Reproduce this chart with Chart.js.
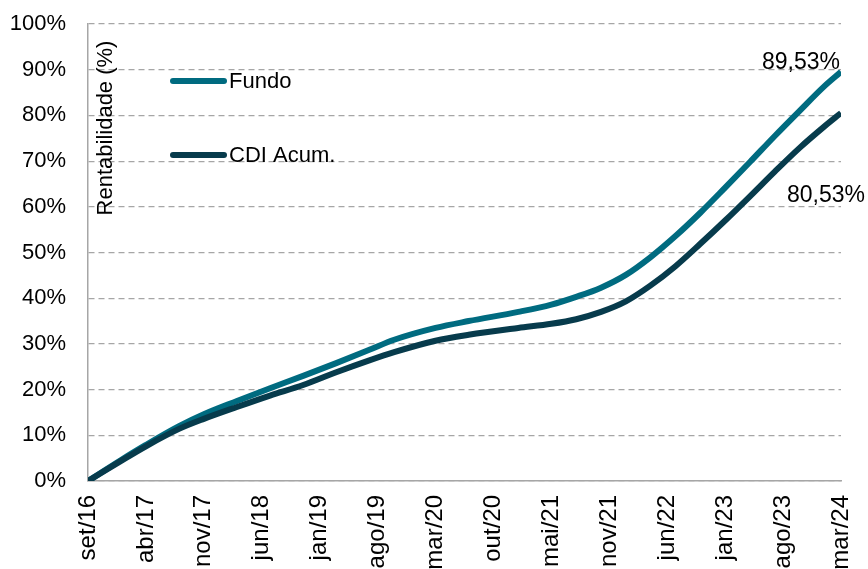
<!DOCTYPE html>
<html>
<head>
<meta charset="utf-8">
<script src="https://cdn.jsdelivr.net/npm/chart.js@4/dist/chart.umd.min.js"></script>
<style>
    body { margin: 0; background: #fff; }
    #grafica-rentabilidade { display: block; }
</style>
</head>
<body>
<canvas id="grafica-rentabilidade" width="868" height="569"></canvas>
<script>
// rotulos do eixo x (um a cada 7 meses)
const rotulosMeses = ["set/16", "abr/17", "nov/17", "jun/18", "jan/19", "ago/19", "mar/20",
    "out/20", "mai/21", "nov/21", "jun/22", "jan/23", "ago/23", "mar/24"];

// indice do mes (0 = set/16) dos pontos
const indiceMes = [0, 4, 7, 11, 14, 18, 22, 26, 30, 34, 37, 42, 46, 52, 56, 59, 62, 65, 68, 71, 74, 77, 80, 83, 86, 89, 91];

const fundo = [0, 4.6, 7.9, 12.0, 14.6, 17.5, 20.3, 23.0, 25.8, 28.7, 30.9, 33.5, 35.0, 37.0, 38.6, 40.3,
    42.3, 45.1, 49.0, 53.6, 58.7, 64.2, 69.8, 75.5, 81.0, 86.4, 89.53];

const cdiAcum = [0, 4.4, 7.6, 11.4, 13.6, 16.2, 18.7, 21.0, 23.8, 26.4, 28.2, 30.7, 32.0, 33.5, 34.4, 35.4,
    37.0, 39.3, 42.8, 47.0, 51.9, 57.0, 62.3, 67.7, 72.9, 77.6, 80.53];

const corFundo = "#006b80";
const corCdi = "#073b4c";
const fonte = "'Liberation Sans', Arial, sans-serif";

const aPontos = (valores) => valores.map((v, i) => ({ x: indiceMes[i], y: v }));

const formatar = (v) => v.toFixed(2).replace(".", ",") + "%";

// legenda, titulo do eixo e rotulos finais desenhados dentro da area
const extras = {
    id: "extras",
    afterDraw: (chart) => {
        const ctx = chart.ctx;
        const area = chart.chartArea;
        const sx = chart.scales.x;
        const sy = chart.scales.y;
        ctx.save();

        // titulo do eixo y
        ctx.save();
        ctx.translate(area.left + 18, 128);
        ctx.rotate(-Math.PI / 2);
        ctx.font = "22px " + fonte;
        ctx.fillStyle = "#000";
        ctx.textAlign = "center";
        ctx.textBaseline = "middle";
        ctx.fillText("Rentabilidade (%)", 0, 0);
        ctx.restore();

        // legenda
        const itens = [
            { texto: "Fundo", cor: corFundo, y: 81 },
            { texto: "CDI Acum.", cor: corCdi, y: 155 },
        ];
        itens.forEach((item) => {
            ctx.beginPath();
            ctx.lineWidth = 6;
            ctx.lineCap = "round";
            ctx.strokeStyle = item.cor;
            ctx.moveTo(173, item.y);
            ctx.lineTo(224, item.y);
            ctx.stroke();
            ctx.font = "22px " + fonte;
            ctx.fillStyle = "#000";
            ctx.textAlign = "left";
            ctx.textBaseline = "middle";
            ctx.fillText(item.texto, 229, item.y + 1);
        });

        // valores finais
        const ultimo = indiceMes.length - 1;
        const xFim = sx.getPixelForValue(indiceMes[ultimo]);
        ctx.font = "23px " + fonte;
        ctx.fillStyle = "#000";
        ctx.textAlign = "right";
        ctx.textBaseline = "middle";
        ctx.fillText(formatar(fundo[ultimo]), xFim - 1, sy.getPixelForValue(fundo[ultimo]) - 9);
        ctx.textAlign = "left";
        ctx.fillText(formatar(cdiAcum[ultimo]), xFim - 54, sy.getPixelForValue(cdiAcum[ultimo]) + 83);

        ctx.restore();
    },
};

const crearGrafico = () => {
    const contexto = document.getElementById("grafica-rentabilidade").getContext("2d");
    return new Chart(contexto, {
        type: "line",
        data: {
            datasets: [
                {
                    label: "CDI Acum.",
                    data: aPontos(cdiAcum),
                    borderColor: corCdi,
                    borderWidth: 6,
                    pointRadius: 0,
                    cubicInterpolationMode: "monotone",
                    fill: false,
                },
                {
                    label: "Fundo",
                    data: aPontos(fundo),
                    borderColor: corFundo,
                    borderWidth: 6,
                    pointRadius: 0,
                    cubicInterpolationMode: "monotone",
                    fill: false,
                },
            ],
        },
        options: {
            responsive: false,
            animation: false,
            layout: { padding: { top: 24, right: 27, left: 0, bottom: 0 } },
            plugins: {
                legend: { display: false },
                tooltip: { enabled: false },
            },
            scales: {
                x: {
                    type: "linear",
                    min: 0,
                    max: 91,
                    afterFit: (escala) => {
                        escala.height = 88;
                        escala.paddingLeft = 0;
                        escala.paddingRight = 0;
                    },
                    grid: { display: false, drawTicks: false },
                    border: { color: "#a6a6a6", width: 1.5 },
                    ticks: {
                        stepSize: 7,
                        autoSkip: false,
                        maxRotation: 90,
                        minRotation: 90,
                        padding: 14,
                        color: "#000",
                        font: { family: fonte, size: 24 },
                        callback: (v) => rotulosMeses[Math.round(v / 7)],
                    },
                },
                y: {
                    min: 0,
                    max: 100,
                    afterFit: (escala) => {
                        escala.width = 88;
                        escala.paddingTop = 0;
                        escala.paddingBottom = 0;
                    },
                    grid: { color: "#a6a6a6", lineWidth: 1.2, drawTicks: false },
                    border: { color: "#a6a6a6", width: 1.5, dash: [6, 4] },
                    ticks: {
                        stepSize: 10,
                        padding: 22,
                        color: "#000",
                        font: { family: fonte, size: 22 },
                        callback: (v) => v + "%",
                    },
                },
            },
        },
        plugins: [extras],
    });
};

crearGrafico();
</script>
</body>
</html>
